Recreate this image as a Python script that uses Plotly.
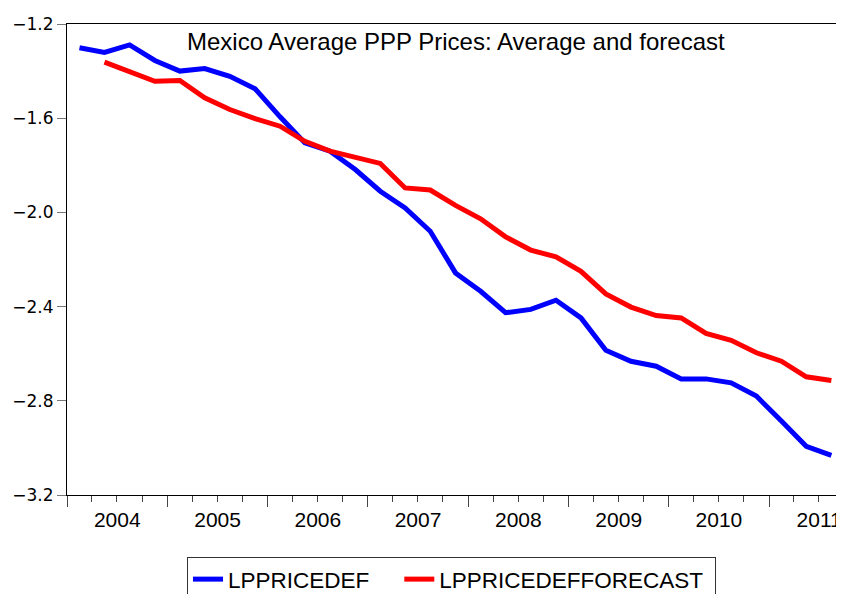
import pandas as pd
import plotly.graph_objects as go

quarters = ["2004Q1", "2004Q2", "2004Q3", "2004Q4",
            "2005Q1", "2005Q2", "2005Q3", "2005Q4",
            "2006Q1", "2006Q2", "2006Q3", "2006Q4",
            "2007Q1", "2007Q2", "2007Q3", "2007Q4",
            "2008Q1", "2008Q2", "2008Q3", "2008Q4",
            "2009Q1", "2009Q2", "2009Q3", "2009Q4",
            "2010Q1", "2010Q2", "2010Q3", "2010Q4",
            "2011Q1", "2011Q2", "2011Q3"]

lppricedef = [-1.301, -1.321, -1.289, -1.355, -1.400, -1.389, -1.422, -1.475,
              -1.594, -1.705, -1.740, -1.818, -1.910, -1.981, -2.080, -2.257,
              -2.335, -2.426, -2.412, -2.373, -2.448, -2.585, -2.632, -2.653,
              -2.707, -2.707, -2.724, -2.780, -2.886, -2.993, -3.032]

lppricedef_forecast = [None, -1.362, -1.405, -1.443, -1.440, -1.513, -1.563, -1.602,
                       -1.634, -1.698, -1.740, -1.768, -1.792, -1.896, -1.905, -1.970,
                       -2.027, -2.104, -2.160, -2.189, -2.250, -2.346, -2.402, -2.438,
                       -2.448, -2.514, -2.543, -2.596, -2.632, -2.698, -2.714]

y_ticks = [-3.2, -2.8, -2.4, -2.0, -1.6, -1.2]

series_names = ["LPPRICEDEF", "LPPRICEDEFFORECAST"]
title_text = "Mexico Average PPP Prices: Average and forecast"

# mid-quarter dates
periods = [pd.Period(q, freq="Q") for q in quarters]
x_dates = [p.start_time + (p.end_time - p.start_time) / 2 for p in periods]

# page body adds an 8px offset; figure is sized to fill the rest of the window
W, H = 836, 586

fig = go.Figure()
fig.add_trace(go.Scatter(x=x_dates, y=lppricedef, mode="lines",
                         name=series_names[0] + "\u00a0\u00a0\u00a0\u00a0",
                         line=dict(color="#0000FF", width=5)))
fig.add_trace(go.Scatter(x=x_dates, y=lppricedef_forecast, mode="lines",
                         name=series_names[1] + "\u00a0",
                         line=dict(color="#FF0000", width=5)))

fig.update_layout(
    width=W, height=H,
    margin=dict(l=59, r=0, t=16, b=99, autoexpand=False),
    paper_bgcolor="white", plot_bgcolor="white",
    showlegend=True,
    legend=dict(orientation="h", xref="container", yref="container",
                x=179 / W, y=1 - 549 / H,
                xanchor="left", yanchor="top",
                bordercolor="#333333", borderwidth=1,
                font=dict(family="Liberation Sans, Arial", size=22.5, color="black")),
    annotations=[dict(text=title_text, xref="paper", yref="paper", x=0.5, y=1,
                      xanchor="center", yanchor="top", yshift=-2, showarrow=False,
                      font=dict(family="Liberation Sans, Arial", size=24, color="black"))],
)

fig.update_xaxes(
    type="date", range=["2004-01-01", "2011-10-01"],
    tick0="2004-01-01", dtick="M12", tickformat="%Y", ticklabelmode="period",
    ticks="outside", ticklen=11, tickcolor="#444444", tickwidth=1,
    minor=dict(dtick="M3", ticks="outside", ticklen=6, tickcolor="#444444", showgrid=False),
    showline=True, linecolor="black", linewidth=1, mirror=True,
    showgrid=False, zeroline=False, automargin=False,
    ticklabeloverflow="allow", ticklabelstandoff=-5,
    tickfont=dict(family="Liberation Sans, Arial", size=21, color="black"),
)
fig.update_yaxes(
    range=[-3.2, -1.2], tickvals=y_ticks, tickformat=".1f",
    ticks="outside", ticklen=9, tickcolor="#777777", tickwidth=1,
    showline=True, linecolor="black", linewidth=1, mirror=False,
    showgrid=False, zeroline=False, automargin=False,
    tickfont=dict(family="DejaVu Sans", size=17, color="black"),
)

fig.write_html("out.html")
